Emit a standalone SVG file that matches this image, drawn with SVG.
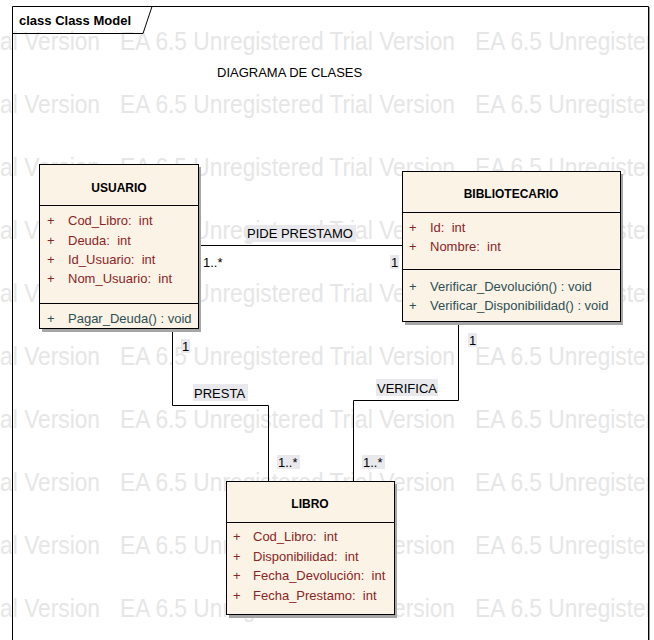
<svg xmlns="http://www.w3.org/2000/svg" width="654" height="640" viewBox="0 0 654 640">
<defs>
<style>
.wm{font-family:"Liberation Sans",Arial,sans-serif;font-size:26px;fill:#e6e6e6}
.box{fill:#fbf3e6;stroke:#000;stroke-width:1}
.shadow{fill:#a6a6a6}
.sep{stroke:#000;stroke-width:1}
.title{font-family:"Liberation Sans",Arial,sans-serif;font-size:12px;font-weight:bold;fill:#000;text-anchor:middle}
.attr{font-family:"Liberation Sans",Arial,sans-serif;font-size:13px;fill:#8b2525;white-space:pre}
.op{font-family:"Liberation Sans",Arial,sans-serif;font-size:13px;fill:#2e4f55;white-space:pre}
.lbl{font-family:"Liberation Sans",Arial,sans-serif;font-size:13px;fill:#000}
.lblbg{fill:#e9e9ed}
.conn{fill:none;stroke:#000;stroke-width:1}
</style>
<clipPath id="clipR"><rect x="0" y="0" width="648" height="640"/></clipPath>
</defs>
<rect x="0" y="0" width="654" height="640" fill="#fff"/>
<g id="watermark" clip-path="url(#clipR)">
<text class="wm" x="-235" y="50" textLength="335" lengthAdjust="spacingAndGlyphs">EA 6.5 Unregistered Trial Version</text>
<text class="wm" x="120" y="50" textLength="335" lengthAdjust="spacingAndGlyphs">EA 6.5 Unregistered Trial Version</text>
<text class="wm" x="475" y="50" textLength="335" lengthAdjust="spacingAndGlyphs">EA 6.5 Unregistered Trial Version</text>
<text class="wm" x="-235" y="113" textLength="335" lengthAdjust="spacingAndGlyphs">EA 6.5 Unregistered Trial Version</text>
<text class="wm" x="120" y="113" textLength="335" lengthAdjust="spacingAndGlyphs">EA 6.5 Unregistered Trial Version</text>
<text class="wm" x="475" y="113" textLength="335" lengthAdjust="spacingAndGlyphs">EA 6.5 Unregistered Trial Version</text>
<text class="wm" x="-235" y="176" textLength="335" lengthAdjust="spacingAndGlyphs">EA 6.5 Unregistered Trial Version</text>
<text class="wm" x="120" y="176" textLength="335" lengthAdjust="spacingAndGlyphs">EA 6.5 Unregistered Trial Version</text>
<text class="wm" x="475" y="176" textLength="335" lengthAdjust="spacingAndGlyphs">EA 6.5 Unregistered Trial Version</text>
<text class="wm" x="-235" y="239" textLength="335" lengthAdjust="spacingAndGlyphs">EA 6.5 Unregistered Trial Version</text>
<text class="wm" x="120" y="239" textLength="335" lengthAdjust="spacingAndGlyphs">EA 6.5 Unregistered Trial Version</text>
<text class="wm" x="475" y="239" textLength="335" lengthAdjust="spacingAndGlyphs">EA 6.5 Unregistered Trial Version</text>
<text class="wm" x="-235" y="302" textLength="335" lengthAdjust="spacingAndGlyphs">EA 6.5 Unregistered Trial Version</text>
<text class="wm" x="120" y="302" textLength="335" lengthAdjust="spacingAndGlyphs">EA 6.5 Unregistered Trial Version</text>
<text class="wm" x="475" y="302" textLength="335" lengthAdjust="spacingAndGlyphs">EA 6.5 Unregistered Trial Version</text>
<text class="wm" x="-235" y="365" textLength="335" lengthAdjust="spacingAndGlyphs">EA 6.5 Unregistered Trial Version</text>
<text class="wm" x="120" y="365" textLength="335" lengthAdjust="spacingAndGlyphs">EA 6.5 Unregistered Trial Version</text>
<text class="wm" x="475" y="365" textLength="335" lengthAdjust="spacingAndGlyphs">EA 6.5 Unregistered Trial Version</text>
<text class="wm" x="-235" y="428" textLength="335" lengthAdjust="spacingAndGlyphs">EA 6.5 Unregistered Trial Version</text>
<text class="wm" x="120" y="428" textLength="335" lengthAdjust="spacingAndGlyphs">EA 6.5 Unregistered Trial Version</text>
<text class="wm" x="475" y="428" textLength="335" lengthAdjust="spacingAndGlyphs">EA 6.5 Unregistered Trial Version</text>
<text class="wm" x="-235" y="491" textLength="335" lengthAdjust="spacingAndGlyphs">EA 6.5 Unregistered Trial Version</text>
<text class="wm" x="120" y="491" textLength="335" lengthAdjust="spacingAndGlyphs">EA 6.5 Unregistered Trial Version</text>
<text class="wm" x="475" y="491" textLength="335" lengthAdjust="spacingAndGlyphs">EA 6.5 Unregistered Trial Version</text>
<text class="wm" x="-235" y="554" textLength="335" lengthAdjust="spacingAndGlyphs">EA 6.5 Unregistered Trial Version</text>
<text class="wm" x="120" y="554" textLength="335" lengthAdjust="spacingAndGlyphs">EA 6.5 Unregistered Trial Version</text>
<text class="wm" x="475" y="554" textLength="335" lengthAdjust="spacingAndGlyphs">EA 6.5 Unregistered Trial Version</text>
<text class="wm" x="-235" y="617" textLength="335" lengthAdjust="spacingAndGlyphs">EA 6.5 Unregistered Trial Version</text>
<text class="wm" x="120" y="617" textLength="335" lengthAdjust="spacingAndGlyphs">EA 6.5 Unregistered Trial Version</text>
<text class="wm" x="475" y="617" textLength="335" lengthAdjust="spacingAndGlyphs">EA 6.5 Unregistered Trial Version</text>
</g>
<g id="frame">
<path d="M12.5,640 V6.5 H648.5 V640" fill="none" stroke="#000" stroke-width="1"/>
<line x1="649.5" y1="7" x2="649.5" y2="640" stroke="#999" stroke-width="1"/>
<path d="M12.5,33.5 H143 L152,6.5" fill="none" stroke="#000" stroke-width="1"/>
<text x="19" y="25" font-family="'Liberation Sans',Arial,sans-serif" font-size="13" font-weight="bold" fill="#000">class Class Model</text>
</g>
<g id="diagram-title">
<text x="217" y="77" font-family="'Liberation Sans',Arial,sans-serif" font-size="13" fill="#000">DIAGRAMA DE CLASES</text>
</g>
<g id="connectors">
<g id="conn-pide-prestamo">
<line class="conn" x1="198" y1="245.5" x2="402" y2="245.5"/>
<rect class="lblbg" x="246" y="225" width="110" height="17"/>
<text class="lbl" x="247" y="238">PIDE PRESTAMO</text>
<text class="lbl" x="203" y="267">1..*</text>
<rect class="lblbg" x="390" y="255" width="9" height="14"/>
<text class="lbl" x="391" y="267">1</text>
</g>
<g id="conn-presta">
<polyline class="conn" points="172.5,329 172.5,405.5 268.5,405.5 268.5,481"/>
<rect class="lblbg" x="181" y="339" width="9" height="14"/>
<text class="lbl" x="182" y="351">1</text>
<rect class="lblbg" x="193" y="384" width="55" height="17"/>
<text class="lbl" x="194" y="398">PRESTA</text>
<rect class="lblbg" x="277" y="455" width="23" height="14"/>
<text class="lbl" x="278" y="467">1..*</text>
</g>
<g id="conn-verifica">
<polyline class="conn" points="458.5,322 458.5,400.5 353.5,400.5 353.5,481"/>
<rect class="lblbg" x="468" y="333" width="9" height="14"/>
<text class="lbl" x="469" y="345">1</text>
<rect class="lblbg" x="376" y="379" width="62" height="17"/>
<text class="lbl" x="377" y="393">VERIFICA</text>
<rect class="lblbg" x="362" y="455" width="23" height="14"/>
<text class="lbl" x="363" y="467">1..*</text>
</g>
</g>
<g id="node-usuario">
<rect class="shadow" x="42" y="167" width="159" height="165"/>
<rect class="box" x="39.5" y="164.5" width="159" height="164"/>
<line class="sep" x1="39.5" y1="205.5" x2="198.5" y2="205.5"/>
<line class="sep" x1="39.5" y1="303.5" x2="198.5" y2="303.5"/>
<text class="title" x="119" y="192">USUARIO</text>
<text class="attr" x="47" y="225">+</text><text class="attr" x="68" y="225" xml:space="preserve">Cod_Libro:  int</text>
<text class="attr" x="47" y="244.5">+</text><text class="attr" x="68" y="244.5" xml:space="preserve">Deuda:  int</text>
<text class="attr" x="47" y="264">+</text><text class="attr" x="68" y="264" xml:space="preserve">Id_Usuario:  int</text>
<text class="attr" x="47" y="283">+</text><text class="attr" x="68" y="283" xml:space="preserve">Nom_Usuario:  int</text>
<text class="op" x="47" y="323">+</text><text class="op" x="68" y="323">Pagar_Deuda() : void</text>
</g>
<g id="node-bibliotecario">
<rect class="shadow" x="405" y="174" width="218" height="151"/>
<rect class="box" x="402.5" y="171.5" width="218" height="150"/>
<line class="sep" x1="402.5" y1="212.5" x2="620.5" y2="212.5"/>
<line class="sep" x1="402.5" y1="269.5" x2="620.5" y2="269.5"/>
<text class="title" x="511" y="197.5">BIBLIOTECARIO</text>
<text class="attr" x="409" y="231.5">+</text><text class="attr" x="430" y="231.5" xml:space="preserve">Id:  int</text>
<text class="attr" x="409" y="250.5">+</text><text class="attr" x="430" y="250.5" xml:space="preserve">Nombre:  int</text>
<text class="op" x="409" y="290.5">+</text><text class="op" x="430" y="290.5">Verificar_Devolución() : void</text>
<text class="op" x="409" y="309.5">+</text><text class="op" x="430" y="309.5">Verificar_Disponibilidad() : void</text>
</g>
<g id="node-libro">
<rect class="shadow" x="229" y="484" width="168" height="134"/>
<rect class="box" x="226.5" y="481.5" width="168" height="133"/>
<line class="sep" x1="226.5" y1="522.5" x2="394.5" y2="522.5"/>
<text class="title" x="310" y="507.5">LIBRO</text>
<text class="attr" x="233" y="540.5">+</text><text class="attr" x="253" y="540.5" xml:space="preserve">Cod_Libro:  int</text>
<text class="attr" x="233" y="560.5">+</text><text class="attr" x="253" y="560.5" xml:space="preserve">Disponibilidad:  int</text>
<text class="attr" x="233" y="580">+</text><text class="attr" x="253" y="580" xml:space="preserve">Fecha_Devolución:  int</text>
<text class="attr" x="233" y="599.5">+</text><text class="attr" x="253" y="599.5" xml:space="preserve">Fecha_Prestamo:  int</text>
</g>
</svg>
